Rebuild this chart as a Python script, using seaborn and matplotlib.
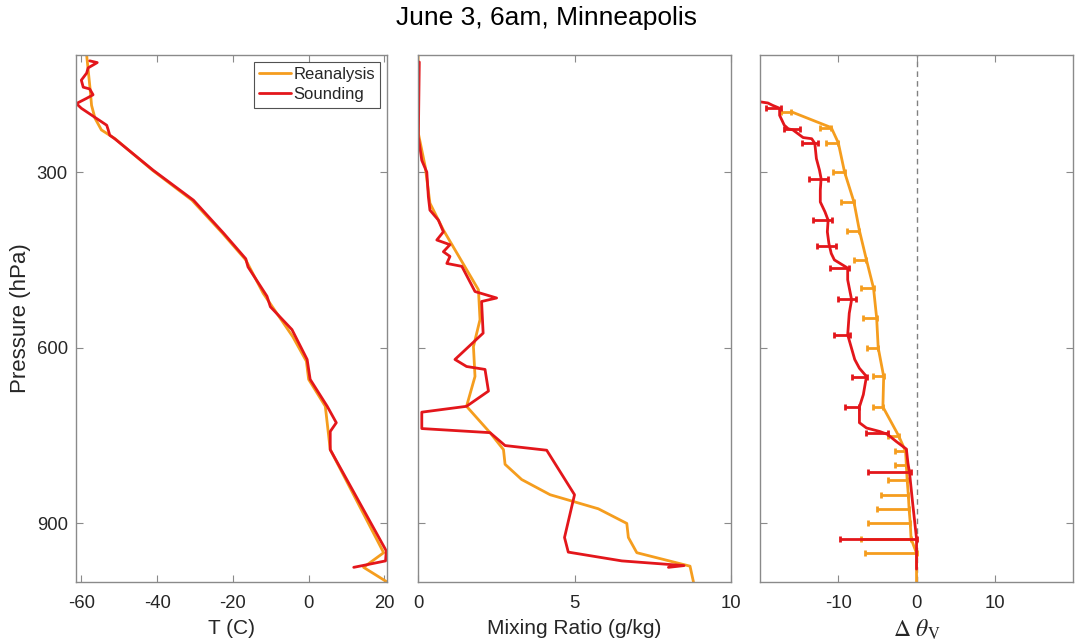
import matplotlib
matplotlib.use("Agg")
import matplotlib.pyplot as plt
import seaborn as sns

# ---- temperature profile (C) vs pressure (hPa)
ra_t_pres = [100, 157, 186, 208, 228, 243, 297, 348, 404, 450, 507, 581, 623, 654, 700, 774, 950, 975, 1000]
ra_temp = [-58.6, -57.7, -57.3, -56.4, -54.7, -51.1, -41.2, -30.8, -22.8, -16.6, -12.0, -4.2, -0.6, 0.0,
           4.4, 5.7, 19.8, 14.5, 20.7]

sd_t_pres = [110, 113, 122, 131, 143, 155, 158, 168, 174, 183, 191, 220, 228, 237, 243, 297, 348, 404,
             448, 462, 512, 530, 569, 620, 637, 654, 700, 728, 743, 774, 947, 964, 971, 975]
sd_temp = [-57.8, -55.8, -58.2, -58.6, -60.0, -59.5, -57.8, -56.9, -58.6, -61.3, -60.0, -53.3, -52.9,
           -52.5, -51.2, -41.0, -30.4, -22.5, -16.6, -16.0, -11.0, -10.1, -4.4, -0.4, 0.0, 0.4, 4.9,
           7.3, 5.7, 5.7, 20.5, 20.3, 15.0, 11.9]

# ---- mixing ratio (g/kg)
ra_w_pres = [100, 234, 291, 353, 399, 501, 552, 598, 649, 700, 745, 774, 799, 825, 851, 875, 900, 924,
             950, 973, 1000]
ra_mix = [0.0, 0.01, 0.23, 0.38, 0.81, 1.93, 1.98, 1.77, 1.82, 1.55, 2.3, 2.73, 2.78, 3.31, 4.22, 5.76,
          6.67, 6.72, 6.99, 8.69, 8.8]

sd_w_pres = [112, 240, 280, 300, 342, 365, 382, 402, 416, 424, 436, 444, 456, 461, 504, 515, 521, 575,
             620, 632, 637, 674, 700, 710, 738, 745, 767, 775, 851, 924, 949, 964, 972, 975]
sd_mix = [0.04, 0.01, 0.12, 0.28, 0.33, 0.38, 0.65, 0.81, 0.6, 1.02, 0.81, 1.02, 0.92, 1.4, 1.82, 2.51,
          2.03, 2.08, 1.18, 1.55, 2.14, 2.25, 1.55, 0.12, 0.12, 2.3, 2.78, 4.11, 5.0, 4.68, 4.8, 6.51,
          8.5, 8.0]

# ---- delta theta_v
ra_d_pres = [197, 224, 250, 300, 351, 400, 450, 498, 549, 600, 649, 701, 750, 777, 801, 826, 851, 876,
             900, 926, 951, 1000]
ra_dth = [-16.0, -10.9, -10.0, -9.2, -8.0, -7.3, -6.4, -5.5, -5.1, -4.9, -4.2, -4.3, -2.3, -1.4, -1.3,
          -1.2, -1.05, -0.95, -0.8, -0.7, 0.0, 0.0]
ra_dth_low = [-17.3, -12.4, -11.6, -10.7, -9.7, -8.9, -8.0, -7.1, -6.8, -6.3, -5.6, -5.6, -3.7, -2.7,
              -2.8, -3.7, -4.5, -5.1, -6.2, -7.1, -6.6]

sd_d_pres = [180, 182, 186, 191, 203, 220, 226, 228, 234, 241, 243, 251, 277, 297, 311, 331, 351, 368,
             382, 402, 422, 439, 450, 459, 464, 484, 518, 541, 578, 620, 635, 649, 680, 701, 728, 737,
             743, 748, 760, 773, 797, 813, 865, 926, 978]
sd_dth = [-20.0, -19.0, -18.4, -17.5, -17.5, -16.9, -16.4, -15.8, -15.2, -14.5, -13.4, -13.0, -12.8,
          -12.4, -12.2, -12.3, -12.3, -11.7, -11.3, -11.4, -11.2, -10.9, -10.5, -9.4, -8.8, -8.8, -8.3,
          -8.6, -8.8, -7.9, -7.3, -6.4, -6.8, -7.3, -7.3, -6.4, -4.7, -3.7, -2.6, -1.3, -1.1, -0.9,
          -0.5, 0.0, 0.0]
sd_bar_pres = [191, 227, 250, 312, 381, 426, 463, 517, 578, 650, 701, 745, 813, 926]
sd_bar_low = [-19.2, -16.9, -14.7, -13.7, -13.2, -12.7, -11.0, -10.0, -10.6, -8.3, -9.1, -6.5, -6.2, -9.8]
sd_bar_high = [-17.3, -14.9, -12.6, -11.3, -10.8, -10.3, -8.6, -7.8, -8.5, -6.3, -7.3, -3.7, -0.7, 0.0]

ORANGE = "#F59D1E"
RED = "#E3161B"
AXCOL = "#8a8a8a"
TXT = "#262626"

sns.set_theme(style="ticks")
plt.rcParams["font.family"] = ["Liberation Sans", "DejaVu Sans"]
plt.rcParams["mathtext.fontset"] = "stix"
plt.rcParams["axes.unicode_minus"] = False

fig = plt.figure(figsize=(10.83, 6.43), dpi=100)
ax1 = fig.add_axes([0.0702, 0.0949, 0.2872, 0.8196])
ax2 = fig.add_axes([0.3860, 0.0949, 0.2890, 0.8196])
ax3 = fig.add_axes([0.7018, 0.0949, 0.2890, 0.8196])


def style_axis(ax):
    ax.set_ylim(1000, 100)
    ax.set_yticks([300, 600, 900])
    ax.tick_params(direction="in", top=True, right=True, length=5, width=0.8,
                   colors=AXCOL, labelcolor=TXT, labelsize=13.3)
    ax.tick_params(axis="x", pad=9.5)
    ax.tick_params(axis="y", pad=6)
    for s in ax.spines.values():
        s.set_visible(True)
        s.set_color(AXCOL)
        s.set_linewidth(1.0)


# panel 1: temperature
sns.lineplot(x=ra_temp, y=ra_t_pres, sort=False, estimator=None, color=ORANGE, lw=2,
             label="Reanalysis", ax=ax1)
sns.lineplot(x=sd_temp, y=sd_t_pres, sort=False, estimator=None, color=RED, lw=2,
             label="Sounding", ax=ax1)
style_axis(ax1)
ax1.set_xlim(-61.4, 20.7)
ax1.set_xticks([-60, -40, -20, 0, 20])
ax1.set_xlabel("T (C)", fontsize=15, color=TXT, labelpad=5)
ax1.set_ylabel("Pressure (hPa)", fontsize=16, color=TXT, labelpad=4)
leg = ax1.legend(loc="upper right", frameon=True, fancybox=False, fontsize=12,
                 handlelength=1.9, handletextpad=0.15, borderpad=0.32, labelspacing=0.32,
                 borderaxespad=0.4)
leg.get_frame().set_edgecolor(TXT)
leg.get_frame().set_linewidth(0.8)

# panel 2: mixing ratio
sns.lineplot(x=ra_mix, y=ra_w_pres, sort=False, estimator=None, color=ORANGE, lw=2, ax=ax2)
sns.lineplot(x=sd_mix, y=sd_w_pres, sort=False, estimator=None, color=RED, lw=2, ax=ax2)
style_axis(ax2)
ax2.set_xlim(0, 10)
ax2.set_xticks([0, 5, 10])
ax2.tick_params(labelleft=False)
ax2.set_xlabel("Mixing Ratio (g/kg)", fontsize=15, color=TXT, labelpad=5)
ax2.set_ylabel("")

# panel 3: delta theta_v with one-sided error bars
ax3.axvline(0, color="#808080", lw=1, ls=(0, (4, 3)), zorder=0)
sns.lineplot(x=ra_dth, y=ra_d_pres, sort=False, estimator=None, color=ORANGE, lw=2, ax=ax3)
n = len(ra_dth_low)
ax3.errorbar(ra_dth[:n], ra_d_pres[:n],
             xerr=[[c - lo for c, lo in zip(ra_dth[:n], ra_dth_low)], [0] * n],
             fmt="none", ecolor=ORANGE, elinewidth=2, capsize=2.3, capthick=2)
sns.lineplot(x=sd_dth, y=sd_d_pres, sort=False, estimator=None, color=RED, lw=2, ax=ax3)
ax3.errorbar(sd_bar_high, sd_bar_pres,
             xerr=[[h - lo for h, lo in zip(sd_bar_high, sd_bar_low)], [0] * len(sd_bar_pres)],
             fmt="none", ecolor=RED, elinewidth=2, capsize=2.3, capthick=2)
style_axis(ax3)
ax3.set_xlim(-20, 20)
ax3.set_xticks([-10, 0, 10])
ax3.tick_params(labelleft=False)
ax3.set_xlabel(r"$\Delta\ \theta_{\rm V}$", fontsize=17, color=TXT, labelpad=4)
ax3.set_ylabel("")

fig.suptitle("June 3, 6am, Minneapolis", fontsize=19, x=0.505, y=0.972, va="center", color="black")

fig.savefig("out.png", dpi=100)
